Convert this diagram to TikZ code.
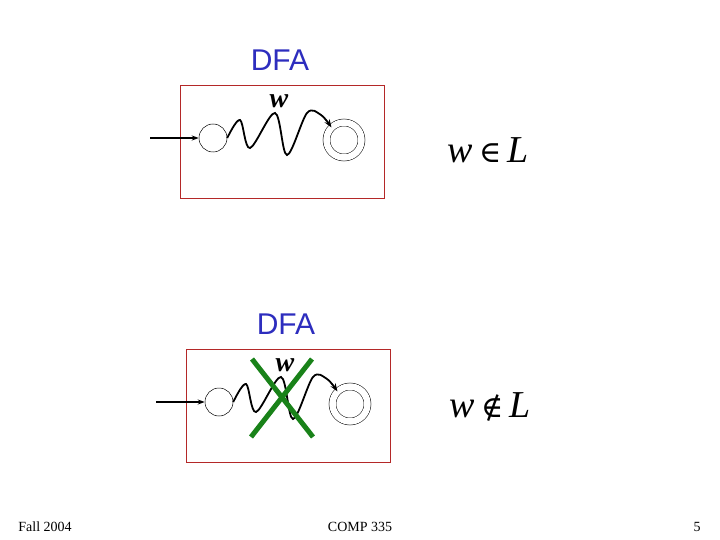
\documentclass[tikz,border=0pt]{standalone}
\usepackage{fontspec}
\setmainfont{Liberation Serif}
\setsansfont{Liberation Sans}
\newfontfamily\relfont{DejaVu Serif}
\usetikzlibrary{arrows.meta,positioning}
\definecolor{dfablue}{RGB}{45,45,190}
\definecolor{dfared}{RGB}{180,40,40}
\definecolor{dfagreen}{RGB}{25,130,25}
\tikzset{
  frame/.style={draw=dfared, line width=0.8pt, minimum width=204pt,
    minimum height=113pt, inner sep=0pt},
  state/.style={circle, draw, line width=0.5pt, minimum size=28pt, inner sep=0pt},
  accept/.style={circle, draw, line width=0.5pt, double, double distance=6.5pt,
    minimum size=35pt, inner sep=0pt},
  entry/.style={-{Stealth[length=7pt,width=5pt]}, line width=1.3pt},
  run/.style={-{Stealth[length=8pt,width=6pt]}, line width=1.8pt},
  title/.style={font=\sffamily\fontsize{30}{32}\selectfont, text=dfablue},
  member/.style={font=\fontsize{38}{40}\selectfont},
  foot/.style={font=\fontsize{14}{16}\selectfont},
  cross/.style={draw=dfagreen, line width=5pt},
}
% one boxed automaton, names prefixed by #1
\newcommand{\dfapanel}[1]{%
  \node[frame] (#1box) at (282,141.5) {};
  \node[title] (#1title) at (280,60) {DFA};
  \node[state] (#1s) at (213,138) {};
  \node[accept] (#1f) at (344,140) {};
  \coordinate (#1in) at (150,138);
  \draw[entry] (#1in) -- (#1s);
  \draw[run] plot[smooth, tension=0.55] coordinates
    {(#1s.east) (240,120) (250,148) (275,113) (287,155) (307,113) (321,115) (#1f.135)};
  \node[font=\fontsize{28}{30}\selectfont\bfseries\itshape] (#1w) at (279,101) {w};
}
\newcommand{\rel}[1]{{\relfont\fontsize{30}{32}\selectfont #1}}

\begin{document}
\begin{tikzpicture}[x=1pt, y=-1pt]
\useasboundingbox (0,0) rectangle (720,540);
% ---------- accepted run ----------
\dfapanel{a}
\node[member] (ain) at (488,150) {\textit{w}\,\rel{∈}\,\textit{L}};

% ---------- rejected run ----------
\begin{scope}[shift={(6,264)}]
\dfapanel{b}
\draw[cross] (246,95) -- (307,173);
\draw[cross] (306,95) -- (245,173);
\end{scope}
\node[member] (bout) at (490,407) {\textit{w}\,\rel{∉}\,\textit{L}};

% ---------- footer ----------
\node[foot] (fdate) at (45,527) {Fall 2004};
\node[foot] (fcourse) at (360,527) {COMP 335};
\node[foot] (fpage) at (697,527) {5};
\end{tikzpicture}
\end{document}
